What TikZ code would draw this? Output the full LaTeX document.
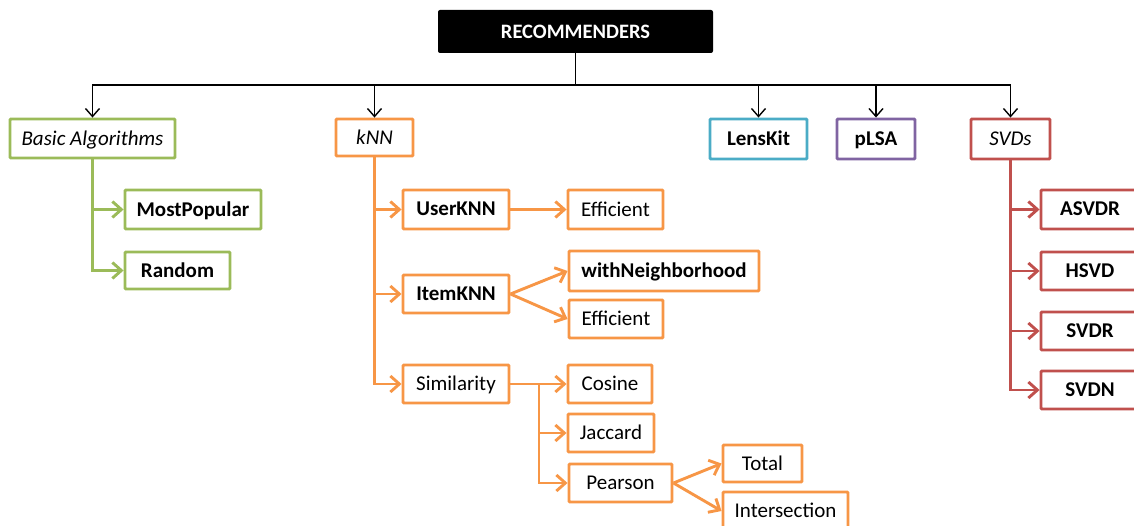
\documentclass[tikz,border=0pt]{standalone}
\usepackage{fontspec}
\setmainfont{Carlito}
\usetikzlibrary{arrows.meta}
\definecolor{cgreen}{HTML}{9BBB59}
\definecolor{corange}{HTML}{F79646}
\definecolor{cblue}{HTML}{4BACC6}
\definecolor{cpurple}{HTML}{8064A2}
\definecolor{cred}{HTML}{C0504D}
\tikzset{
  bx/.style={draw=#1, line width=2.9pt, fill=white, inner sep=0pt, font=\fontsize{21}{23}\selectfont, text=black, rounded corners=1pt, text depth=0.2ex},
  wh/.style 2 args={minimum width=#1pt, minimum height=#2pt},
  bf/.style={font=\fontsize{21}{23}\selectfont\bfseries},
  it/.style={font=\fontsize{21}{23}\selectfont\itshape},
  carrow/.style={draw=#1, line width=2.9pt, -{Straight Barb[length=9pt,width=16pt,line width=2.9pt]}},
  cline/.style={draw=#1, line width=2.9pt},
  karrow/.style={draw=black, line width=1.4pt, -{Straight Barb[length=8pt,width=14pt,line width=1.4pt]}},
}
\begin{document}
\begin{tikzpicture}[x=1pt,y=-1pt]
\path[use as bounding box] (0,0) rectangle (1134,526);
\clip (0,0) rectangle (1134,526);
% top
\node[fill=black, rounded corners=2pt, minimum width=275pt, minimum height=43pt, inner sep=0pt, text=white, font=\fontsize{20.5}{22}\selectfont\bfseries] (rec) at (575.5,31.5) {RECOMMENDERS};
\node[bx=cgreen, wh={165}{39}, it] (ba) at (92.5,138.5) {Basic Algorithms};
\node[bx=corange, wh={77}{37}, it] (knn) at (374.5,137.5) {kNN};
\node[bx=cblue, wh={97}{40}, bf] (lk) at (758.5,139) {LensKit};
\node[bx=cpurple, wh={78}{40}, bf] (plsa) at (876,139) {pLSA};
\node[bx=cred, wh={79}{40}, it] (svds) at (1010.5,139) {SVDs};
\coordinate (hub) at (575.5,85);
\draw[line width=1.4pt] (rec.south) -- (hub);
\foreach \t in {ba,knn,lk,plsa,svds} { \draw[karrow] (hub) -| (\t.north); }
% basic
\node[bx=cgreen, wh={136}{39}, bf] (mp) at (193,209.5) {MostPopular};
\node[bx=cgreen, wh={105}{37}, bf] (rnd) at (177.5,270.5) {Random};
\draw[carrow=cgreen] (ba.south) |- (mp.west);
\draw[carrow=cgreen] (ba.south) |- (rnd.west);
% kNN
\node[bx=corange, wh={106}{39}, bf] (uknn) at (456,209.5) {UserKNN};
\node[bx=corange, wh={95}{39}] (eff1) at (615.5,209.5) {Efficient};
\node[bx=corange, wh={106}{38}, bf] (iknn) at (456,294) {ItemKNN};
\node[bx=corange, wh={190}{40}, bf] (wn) at (664,271) {withNeighborhood};
\node[bx=corange, wh={94}{38}] (eff2) at (616,319) {Efficient};
\node[bx=corange, wh={106}{38}] (sim) at (456,384) {Similarity};
\node[bx=corange, wh={84}{38}] (cos) at (610,384) {Cosine};
\node[bx=corange, wh={86}{38}] (jac) at (611,433) {Jaccard};
\node[bx=corange, wh={103}{38}] (pear) at (620.5,483) {Pearson};
\node[bx=corange, wh={79}{37}] (tot) at (762.5,463.5) {Total};
\node[bx=corange, wh={125}{38}] (inter) at (785.5,511) {Intersection};
\draw[carrow=corange] (knn.south) |- (uknn.west);
\draw[carrow=corange] (knn.south) |- (iknn.west);
\draw[carrow=corange] (knn.south) |- (sim.west);
\draw[carrow=corange] (uknn.east) -- (eff1.west);
\draw[carrow=corange] (iknn.east) -- (wn.west);
\draw[carrow=corange] (iknn.east) -- (eff2.west);
\coordinate (sj) at (539,384);
\draw[cline=corange] (sim.east) -- (sj);
\draw[carrow=corange] (sj) -- (cos.west);
\draw[carrow=corange] (sj) |- (jac.west);
\draw[carrow=corange] (sj) |- (pear.west);
\draw[carrow=corange] (pear.east) -- (tot.west);
\draw[carrow=corange] (pear.east) -- (inter.west);
% SVDs
\node[bx=cred, wh={98}{39}, bf] (asvdr) at (1090,209.5) {ASVDR};
\node[bx=cred, wh={98}{38}, bf] (hsvd) at (1090,271) {HSVD};
\node[bx=cred, wh={98}{38}, bf] (svdr) at (1090,331) {SVDR};
\node[bx=cred, wh={98}{38}, bf] (svdn) at (1090,390) {SVDN};
\foreach \t in {asvdr,hsvd,svdr,svdn} { \draw[carrow=cred] (svds.south) |- (\t.west); }
\end{tikzpicture}
\end{document}
